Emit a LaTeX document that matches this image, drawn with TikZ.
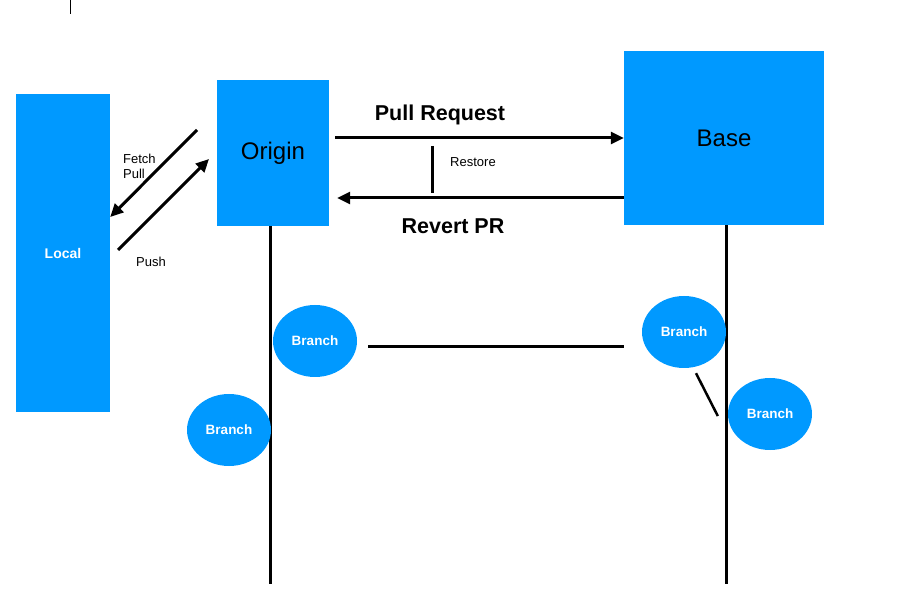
\documentclass[tikz,border=0pt]{standalone}
\usepackage{fontspec}
\setmainfont{Liberation Sans}
\usetikzlibrary{shapes.geometric,arrows.meta}
\definecolor{boxblue}{RGB}{0,153,255}
\tikzset{
  bluebox/.style={draw=none,fill=boxblue,rectangle,inner sep=0pt,anchor=center},
  branchnode/.style={draw=none,fill=boxblue,ellipse,inner sep=0pt,minimum width=84pt,minimum height=72pt,text=white,font=\fontsize{13.5}{16}\selectfont\bfseries},
  conn/.style={line width=3pt},
  arr/.style={line width=3pt,-{Triangle[length=13pt,width=12pt]}},
  smalltxt/.style={font=\fontsize{13}{15}\selectfont,inner sep=0pt},
  bigtxt/.style={font=\fontsize{21.5}{24}\selectfont\bfseries,inner sep=0pt}
}
\begin{document}
\begin{tikzpicture}[x=1pt,y=-1pt]
\useasboundingbox (0,0) rectangle (921,601);
\fill[white] (0,0) rectangle (921,601);
% thin mark at top-left
\coordinate (markA) at (70,0);
\coordinate (markB) at (70,14);
\draw[line width=1pt] (markA) -- (markB);
% boxes
\node[bluebox,minimum width=94pt,minimum height=318pt,text=white,font=\fontsize{14}{16}\selectfont\bfseries] (local) at (63,253) {Local};
\node[bluebox,minimum width=112pt,minimum height=146pt,font=\fontsize{24}{28}\selectfont] (origin) at (273,153) {Origin};
\node[bluebox,minimum width=200pt,minimum height=174pt,font=\fontsize{24}{28}\selectfont] (base) at (724,138) {Base};
% lifelines
\coordinate (originEnd) at (270,584);
\coordinate (baseEnd) at (726,584);
\draw[conn] (origin.south -| originEnd) -- (originEnd);
\draw[conn] (base.south -| baseEnd) -- (baseEnd);
% Local <-> Origin arrows
\coordinate (fetchStart) at (197,130);
\coordinate (pushStart) at (118,250);
\coordinate (pushEnd) at (209,159);
\draw[arr] (fetchStart) -- (local.east |- 0,217);
\draw[arr] (pushStart) -- (pushEnd);
\node[smalltxt,anchor=west,align=left] (fetchlbl) at (123,166) {Fetch\\Pull};
\node[smalltxt] (pushlbl) at (151,262) {Push};
% Origin <-> Base arrows
\draw[arr] ([xshift=6pt]origin.east |- 0,138) -- (base.west |- 0,138);
\draw[arr] (base.west |- 0,198) -- ([xshift=8pt]origin.east |- 0,198);
\coordinate (restoreTop) at (432,146);
\coordinate (restoreBot) at (432,193);
\draw[conn] (restoreTop) -- (restoreBot);
\node[smalltxt] (restorelbl) at (473,162) {Restore};
\node[bigtxt] (prlbl) at (440,115) {Pull Request};
\node[bigtxt] (revertlbl) at (453,226) {Revert PR};
% branches
\node[branchnode] (b1) at (315,341) {Branch};
\node[branchnode] (b2) at (229,430) {Branch};
\node[branchnode] (b3) at (684,332) {Branch};
\node[branchnode] (b4) at (770,414) {Branch};
\draw[conn] ([xshift=11pt]b1.east |- 0,347) -- ([xshift=-18pt]b3.west |- 0,347);
\draw[line width=2.5pt] ([shift={(12pt,-5pt)}]b3.south) -- ([shift={(-10pt,-2pt)}]b4.west);
\end{tikzpicture}
\end{document}
